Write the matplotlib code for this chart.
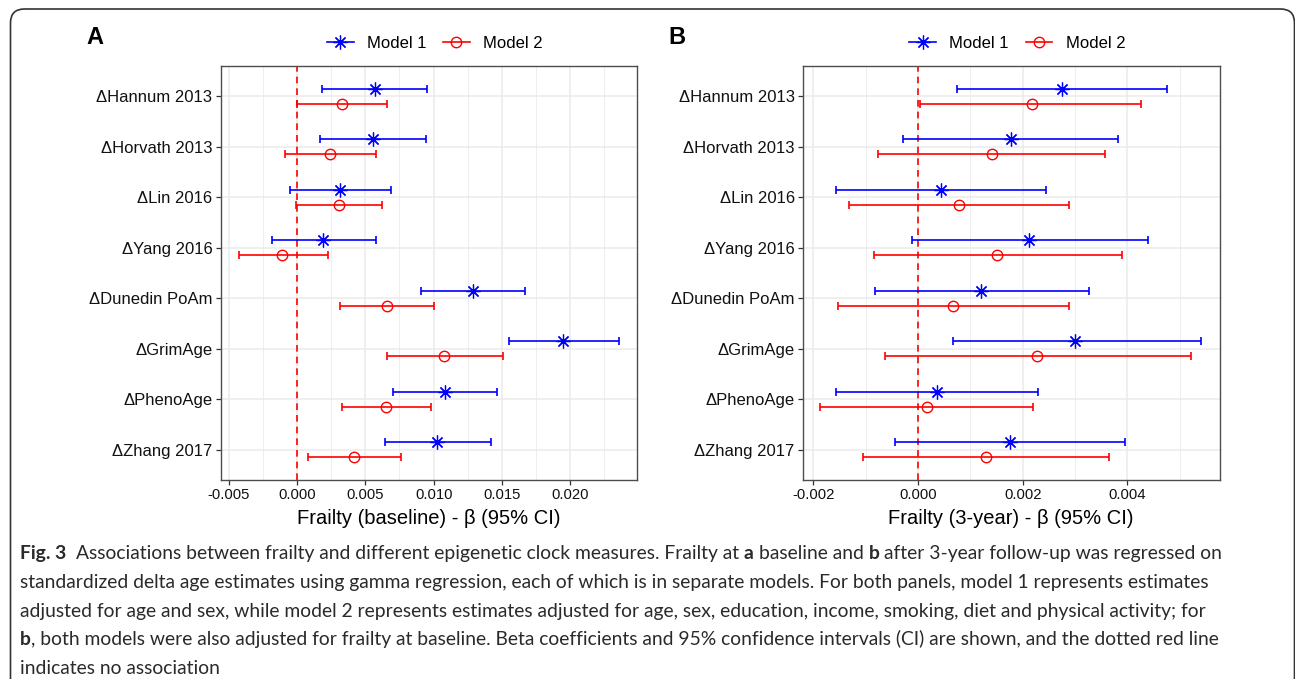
import numpy as np
import matplotlib.pyplot as plt
from matplotlib.lines import Line2D
from matplotlib.patches import FancyBboxPatch
from matplotlib.transforms import IdentityTransform

plt.rcParams['font.family'] = ['Liberation Sans', 'DejaVu Sans']

W, H = 1295, 679

clocks = ['ΔHannum 2013', 'ΔHorvath 2013', 'ΔLin 2016', 'ΔYang 2016',
          'ΔDunedin PoAm', 'ΔGrimAge', 'ΔPhenoAge', 'ΔZhang 2017']

# Panel A - frailty at baseline
a_m1_est = [0.00569, 0.00555, 0.00318, 0.00194, 0.01285, 0.01948, 0.01085, 0.01024]
a_m1_lo = [0.00185, 0.00166, -0.00049, -0.00182, 0.00909, 0.01551, 0.00703, 0.00642]
a_m1_hi = [0.00951, 0.00942, 0.00687, 0.00575, 0.01669, 0.02355, 0.01460, 0.01418]
a_m2_est = [0.00327, 0.00242, 0.00306, -0.00106, 0.00657, 0.01078, 0.00655, 0.00418]
a_m2_lo = [0.00000, -0.00091, -0.00009, -0.00422, 0.00315, 0.00657, 0.00333, 0.00078]
a_m2_hi = [0.00657, 0.00575, 0.00624, 0.00227, 0.01006, 0.01509, 0.00982, 0.00764]

# Panel B - frailty at 3-year follow-up
b_m1_est = [0.00275, 0.00177, 0.00043, 0.00212, 0.00121, 0.00300, 0.00037, 0.00175]
b_m1_lo = [0.00074, -0.00028, -0.00157, -0.00011, -0.00082, 0.00067, -0.00156, -0.00044]
b_m1_hi = [0.00476, 0.00382, 0.00244, 0.00439, 0.00327, 0.00541, 0.00230, 0.00396]
b_m2_est = [0.00217, 0.00142, 0.00078, 0.00150, 0.00066, 0.00227, 0.00017, 0.00129]
b_m2_lo = [0.00004, -0.00076, -0.00132, -0.00084, -0.00154, -0.00063, -0.00187, -0.00106]
b_m2_hi = [0.00426, 0.00358, 0.00288, 0.00390, 0.00289, 0.00521, 0.00220, 0.00364]

a_ticks = [-0.005, 0.000, 0.005, 0.010, 0.015, 0.020]
a_minor = [-0.0025, 0.0025, 0.0075, 0.0125, 0.0175, 0.0225]
b_ticks = [-0.002, 0.000, 0.002, 0.004]
b_minor = [-0.001, 0.001, 0.003, 0.005]

caption = [
    [('Fig. 3', True, 2), ('Associations between frailty and different epigenetic clock measures. '
                           'Frailty at', False, 1), ('a', True, 1), ('baseline and', False, 1),
     ('b', True, 1), ('after 3-year follow-up was regressed on', False, 0)],
    [('standardized delta age estimates using gamma regression, each of which is in separate '
      'models. For both panels, model 1 represents estimates', False, 0)],
    [('adjusted for age and sex, while model 2 represents estimates adjusted for age, sex, '
      'education, income, smoking, diet and physical activity; for', False, 0)],
    [('b', True, 0), (', both models were also adjusted for frailty at baseline. Beta coefficients '
                      'and 95% confidence intervals (CI) are shown, and the dotted red line', False, 0)],
    [('indicates no association', False, 0)],
]

BLUE, RED = '#0000FF', '#FF0000'
STAR = (8, 2, 0)


def px_box(x0, x1, y0, y1):
    return [x0 / W, 1 - y1 / H, (x1 - x0) / W, (y1 - y0) / H]


fig = plt.figure(figsize=(W / 100, H / 100), dpi=100)

panels = [
    (px_box(220.7, 637.0, 66, 480), 'A', 94.5, 'Frailty (baseline) - β (95% CI)',
     (a_m1_est, a_m1_lo, a_m1_hi, a_m2_est, a_m2_lo, a_m2_hi),
     a_ticks, a_minor, (-0.00558, 0.02488), '{:.3f}'),
    (px_box(803.0, 1219.5, 66, 480), 'B', 677, 'Frailty (3-year) - β (95% CI)',
     (b_m1_est, b_m1_lo, b_m1_hi, b_m2_est, b_m2_lo, b_m2_hi),
     b_ticks, b_minor, (-0.00220, 0.00576), '{:.3f}'),
]

ypos = np.arange(len(clocks))
for box, letter, lx, xlabel, series, ticks, minor, xlim, fmt in panels:
    ax = fig.add_axes(box)
    m1e, m1l, m1h, m2e, m2l, m2h = [np.array(s) for s in series]

    for v in minor:
        ax.axvline(v, color='#EBEBEB', lw=0.6, zorder=0)
    for v in ticks:
        ax.axvline(v, color='#EBEBEB', lw=1.1, zorder=0)
    for y in ypos:
        ax.axhline(y, color='#EBEBEB', lw=1.1, zorder=0)

    ax.axvline(0, color=RED, lw=1.2, dashes=(4, 3), zorder=1)

    ax.errorbar(m1e, ypos - 0.15, xerr=[m1e - m1l, m1h - m1e], fmt='none',
                ecolor=BLUE, elinewidth=1.2, capsize=2.6, capthick=1.2, zorder=3)
    ax.plot(m1e, ypos - 0.15, linestyle='none', marker=STAR, markersize=10,
            mec=BLUE, mew=0.9, zorder=4)
    ax.errorbar(m2e, ypos + 0.15, xerr=[m2e - m2l, m2h - m2e], fmt='none',
                ecolor=RED, elinewidth=1.2, capsize=2.6, capthick=1.2, zorder=3)
    ax.plot(m2e, ypos + 0.15, linestyle='none', marker='o', markersize=7.5,
            mfc='none', mec=RED, mew=1.0, zorder=4)

    ax.set_xlim(*xlim)
    ax.set_ylim(len(clocks) - 0.4, -0.6)
    ax.set_xticks(ticks)
    ax.set_xticklabels([fmt.format(t) for t in ticks], fontsize=10.7)
    ax.set_yticks(ypos)
    ax.set_yticklabels(clocks, fontsize=12)
    ax.tick_params(length=3.5, width=0.9, color='#333333', pad=2.5, labelcolor='#111111')
    for s in ax.spines.values():
        s.set_color('#4d4d4d')
        s.set_linewidth(1.0)
    ax.set_xlabel(xlabel, fontsize=14.5, labelpad=5)

    handles = [
        Line2D([], [], color=BLUE, lw=1.2, marker=STAR, markersize=10, mew=0.9),
        Line2D([], [], color=RED, lw=1.2, marker='o', markersize=7.5, mfc='none', mew=1.0),
    ]
    cx = (box[0] + box[2] / 2) + 6 / W
    fig.legend(handles, ['Model 1', 'Model 2'], loc='center', ncol=2,
               bbox_to_anchor=(cx, 1 - 43 / H), frameon=False, fontsize=12,
               handlelength=1.6, handletextpad=0.8, columnspacing=1.0)

    fig.text(lx / W, 1 - 37 / H, letter, fontsize=17, fontweight='bold',
             ha='center', va='center')

# rounded frame around figure and caption
frame = FancyBboxPatch((10.5, -40), 1284, 679 - 9 + 40,
                       boxstyle='round,pad=0,rounding_size=14',
                       transform=IdentityTransform(), fill=False,
                       edgecolor='#333333', lw=1.2)
fig.patches.append(frame)

# caption with bold runs
renderer = fig.canvas.get_renderer()
cap_size = 13.9
cap_family = ['Lato', 'DejaVu Sans']
probe1 = fig.text(0, 0, 'x x', fontsize=cap_size, family=cap_family)
probe2 = fig.text(0, 0, 'xx', fontsize=cap_size, family=cap_family)
space_w = probe1.get_window_extent(renderer).width - probe2.get_window_extent(renderer).width
probe1.remove()
probe2.remove()

baselines = [559, 588, 616.5, 645, 673.5]
for runs, base in zip(caption, baselines):
    x = 20
    for text, bold, gap in runs:
        t = fig.text(x, H - base, text, transform=IdentityTransform(),
                     fontsize=cap_size, family=cap_family, color='#2a2a2a',
                     fontweight='bold' if bold else 'normal', va='baseline')
        x += t.get_window_extent(renderer).width + gap * space_w

fig.savefig('out.png', dpi=100)
